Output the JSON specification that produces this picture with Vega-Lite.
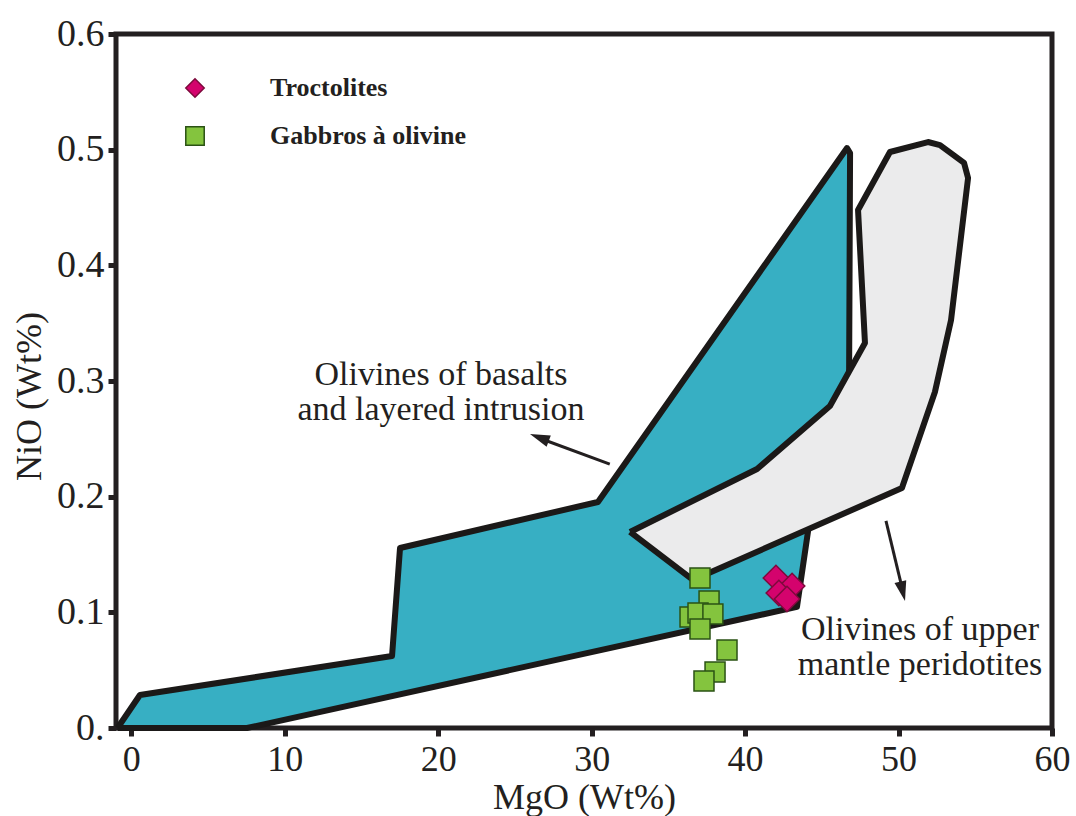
{
  "$schema": "https://vega.github.io/schema/vega-lite/v6.json",
  "width": 936,
  "height": 694,
  "autosize": "none",
  "padding": {"left": 116, "top": 34, "right": 24, "bottom": 88},
  "background": "white",
  "config": {
    "view": {"stroke": "#231f20", "strokeWidth": 5},
    "font": "Liberation Serif",
    "axis": {
      "grid": false,
      "domain": false,
      "tickColor": "#231f20",
      "tickWidth": 5,
      "tickSize": 8,
      "labelFont": "Liberation Serif",
      "labelFontSize": 36,
      "labelColor": "#231f20",
      "titleFont": "Liberation Serif",
      "titleFontSize": 36,
      "titleFontWeight": "normal",
      "titleColor": "#231f20"
    },
    "legend": {
      "orient": "none",
      "legendX": 66,
      "legendY": 41,
      "labelFont": "Liberation Serif",
      "labelFontWeight": "bold",
      "labelFontSize": 26,
      "labelColor": "#231f20",
      "labelLimit": 500,
      "symbolSize": 340,
      "rowPadding": 22,
      "labelOffset": 62,
      "padding": 0,
      "symbolStrokeWidth": 1.5
    }
  },
  "datasets": {
    "regions": [
      {"region": "basalt", "i": 0, "MgO": -0.9, "NiO": 0},
      {"region": "basalt", "i": 1, "MgO": 0.56, "NiO": 0.0285},
      {"region": "basalt", "i": 2, "MgO": 16.99, "NiO": 0.0622},
      {"region": "basalt", "i": 3, "MgO": 17.51, "NiO": 0.1556},
      {"region": "basalt", "i": 4, "MgO": 30.41, "NiO": 0.1954},
      {"region": "basalt", "i": 5, "MgO": 46.64, "NiO": 0.5014},
      {"region": "basalt", "i": 6, "MgO": 46.84, "NiO": 0.4971},
      {"region": "basalt", "i": 7, "MgO": 46.77, "NiO": 0.2836},
      {"region": "basalt", "i": 8, "MgO": 44.16, "NiO": 0.1755},
      {"region": "basalt", "i": 9, "MgO": 43.38, "NiO": 0.1047},
      {"region": "basalt", "i": 10, "MgO": 7.54, "NiO": 0},
      {"region": "basalt", "i": 11, "MgO": -0.9, "NiO": 0},
      {"region": "mantle", "i": 0, "MgO": 32.5, "NiO": 0.1695},
      {"region": "mantle", "i": 1, "MgO": 40.78, "NiO": 0.2239},
      {"region": "mantle", "i": 2, "MgO": 45.53, "NiO": 0.2784},
      {"region": "mantle", "i": 3, "MgO": 47.81, "NiO": 0.3329},
      {"region": "mantle", "i": 4, "MgO": 47.36, "NiO": 0.4478},
      {"region": "mantle", "i": 5, "MgO": 49.44, "NiO": 0.498},
      {"region": "mantle", "i": 6, "MgO": 51.92, "NiO": 0.5066},
      {"region": "mantle", "i": 7, "MgO": 52.7, "NiO": 0.504},
      {"region": "mantle", "i": 8, "MgO": 54.27, "NiO": 0.4885},
      {"region": "mantle", "i": 9, "MgO": 54.53, "NiO": 0.4755},
      {"region": "mantle", "i": 10, "MgO": 53.42, "NiO": 0.3527},
      {"region": "mantle", "i": 11, "MgO": 52.37, "NiO": 0.2905},
      {"region": "mantle", "i": 12, "MgO": 50.22, "NiO": 0.2075},
      {"region": "mantle", "i": 13, "MgO": 36.6, "NiO": 0.128},
      {"region": "mantle", "i": 14, "MgO": 32.5, "NiO": 0.1695}
    ],
    "samples": [
      {"rock": "Gabbros à olivine", "MgO": 37.06, "NiO": 0.1297},
      {"rock": "Gabbros à olivine", "MgO": 37.65, "NiO": 0.1098},
      {"rock": "Gabbros à olivine", "MgO": 36.41, "NiO": 0.096},
      {"rock": "Gabbros à olivine", "MgO": 36.93, "NiO": 0.0994},
      {"rock": "Gabbros à olivine", "MgO": 37.9, "NiO": 0.0986},
      {"rock": "Gabbros à olivine", "MgO": 37.06, "NiO": 0.0856},
      {"rock": "Gabbros à olivine", "MgO": 38.82, "NiO": 0.0674},
      {"rock": "Gabbros à olivine", "MgO": 38.04, "NiO": 0.0484},
      {"rock": "Gabbros à olivine", "MgO": 37.32, "NiO": 0.0406},
      {"rock": "Troctolites", "MgO": 42.01, "NiO": 0.1297},
      {"rock": "Troctolites", "MgO": 43.06, "NiO": 0.1228},
      {"rock": "Troctolites", "MgO": 42.2, "NiO": 0.1167},
      {"rock": "Troctolites", "MgO": 42.73, "NiO": 0.1115}
    ],
    "arrows": [
      {"arrow": "basalt", "MgO": 31.18, "NiO": 0.2282, "MgO2": 26.57, "NiO2": 0.2507},
      {"arrow": "mantle", "MgO": 49.18, "NiO": 0.179, "MgO2": 50.28, "NiO2": 0.1184}
    ],
    "heads": [
      {"arrow": "basalt", "MgO": 25.98, "NiO": 0.2542},
      {"arrow": "mantle", "MgO": 50.42, "NiO": 0.1098}
    ],
    "notes": [
      {"label": ["Olivines of basalts", "and layered intrusion"], "MgO": 20.18, "NiO": 0.2966},
      {"label": ["Olivines of upper", "mantle peridotites"], "MgO": 51.4, "NiO": 0.0761}
    ]
  },
  "encoding": {
    "x": {
      "field": "MgO",
      "type": "quantitative",
      "scale": {"domain": [-1, 60], "nice": false, "zero": false},
      "axis": {
        "values": [0, 10, 20, 30, 40, 50, 60],
        "title": "MgO (Wt%)",
        "labelPadding": 6,
        "titlePadding": 3,
        "labelFlush": false
      }
    },
    "y": {
      "field": "NiO",
      "type": "quantitative",
      "scale": {"domain": [0, 0.6], "nice": false, "zero": false},
      "axis": {
        "values": [0, 0.1, 0.2, 0.3, 0.4, 0.5, 0.6],
        "title": "NiO (Wt%)",
        "labelExpr": "datum.value === 0 ? '0.' : datum.label",
        "labelFontSize": 38,
        "labelPadding": 4,
        "titlePadding": 8,
        "titleY": 362,
        "labelFlush": false
      }
    }
  },
  "layer": [
    {
      "data": {"name": "regions"},
      "transform": [{"filter": "datum.region === 'basalt'"}],
      "mark": {"type": "line", "fill": "#37afc3", "stroke": "#1b1918", "strokeWidth": 6, "strokeJoin": "round"},
      "encoding": {"order": {"field": "i", "type": "quantitative"}}
    },
    {
      "data": {"name": "regions"},
      "transform": [{"filter": "datum.region === 'mantle'"}],
      "mark": {"type": "line", "fill": "#ebebec", "stroke": "#1b1918", "strokeWidth": 6, "strokeJoin": "round"},
      "encoding": {"order": {"field": "i", "type": "quantitative"}}
    },
    {
      "data": {"name": "arrows"},
      "mark": {"type": "rule", "color": "#231f20", "strokeWidth": 3},
      "encoding": {
        "x2": {"field": "MgO2"},
        "y2": {"field": "NiO2"}
      }
    },
    {
      "data": {"name": "heads"},
      "transform": [{"filter": "datum.arrow === 'basalt'"}],
      "mark": {"type": "point", "shape": "M0,0L1.2,4L-1.2,4Z", "size": 100, "angle": 290.6, "filled": true, "color": "#231f20", "opacity": 1}
    },
    {
      "data": {"name": "heads"},
      "transform": [{"filter": "datum.arrow === 'mantle'"}],
      "mark": {"type": "point", "shape": "M0,0L1.2,4L-1.2,4Z", "size": 100, "angle": 166.6, "filled": true, "color": "#231f20", "opacity": 1}
    },
    {
      "data": {"name": "notes"},
      "mark": {"type": "text", "font": "Liberation Serif", "fontSize": 34, "lineHeight": 35, "align": "center", "baseline": "alphabetic", "color": "#231f20"},
      "encoding": {"text": {"field": "label"}}
    },
    {
      "data": {"name": "samples"},
      "transform": [{"filter": "datum.rock === 'Gabbros à olivine'"}],
      "mark": {"type": "point", "filled": true, "opacity": 1, "strokeWidth": 1.5, "size": 400},
      "encoding": {
        "shape": {"field": "rock", "type": "nominal", "title": null, "scale": {"domain": ["Troctolites", "Gabbros à olivine"], "range": ["diamond", "square"]}},
        "fill": {"field": "rock", "type": "nominal", "title": null, "scale": {"domain": ["Troctolites", "Gabbros à olivine"], "range": ["#d4036d", "#84c43e"]}},
        "stroke": {"field": "rock", "type": "nominal", "title": null, "scale": {"domain": ["Troctolites", "Gabbros à olivine"], "range": ["#7d0a3c", "#2a5214"]}}
      }
    },
    {
      "data": {"name": "samples"},
      "transform": [{"filter": "datum.rock === 'Troctolites'"}],
      "mark": {"type": "point", "filled": true, "opacity": 1, "strokeWidth": 1.5, "size": 650},
      "encoding": {
        "shape": {"field": "rock", "type": "nominal", "title": null},
        "fill": {"field": "rock", "type": "nominal", "title": null},
        "stroke": {"field": "rock", "type": "nominal", "title": null}
      }
    }
  ]
}
